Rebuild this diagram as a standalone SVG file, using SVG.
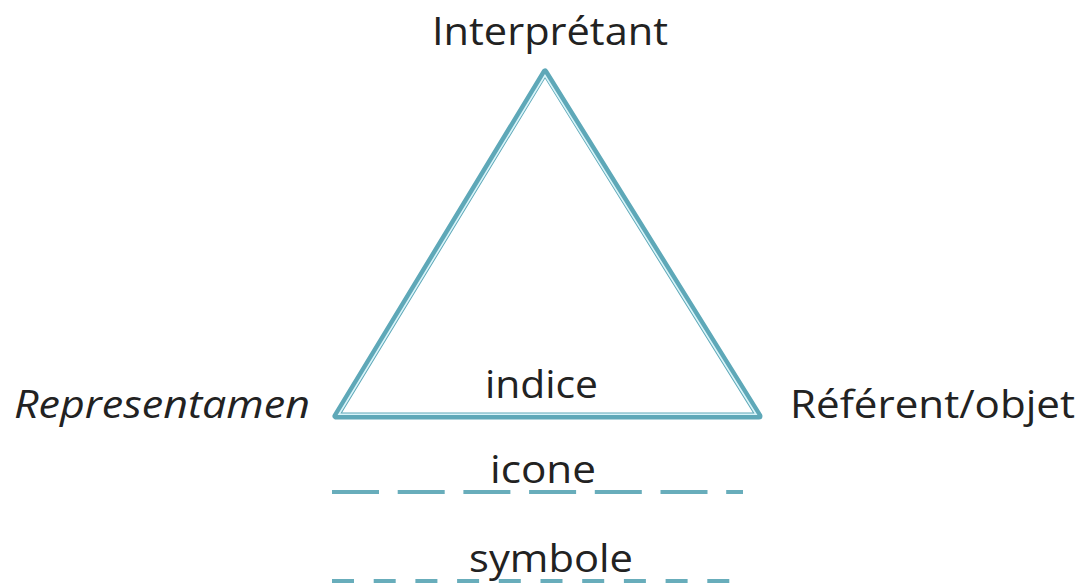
<svg xmlns="http://www.w3.org/2000/svg" width="1085" height="586" viewBox="0 0 1085 586">
<style>
  .lbl { font-family: "Open Sans", "Noto Sans", sans-serif; font-size: 38px; fill: #222222; }
  .it { font-style: italic; }
  .tri-out { fill: none; stroke: #5ea8b8; stroke-width: 7; stroke-linejoin: round; }
  .tri-in { fill: none; stroke: #d9f4f9; stroke-width: 1.6; stroke-linejoin: miter; }
  .dash { stroke: #68adbb; stroke-width: 4; fill: none; }
</style>
<rect width="1085" height="586" fill="#ffffff"/>
<g id="connectors">
  <g id="triangle">
    <polygon class="tri-out" points="545,72 336,416 759,416"/>
    <polygon class="tri-in" points="545,75.5 339,414.3 756,414.3"/>
  </g>
  <line id="icone-line" class="dash" x1="332" y1="492" x2="743" y2="492" stroke-dasharray="47 18.7"/>
  <line id="symbole-line" class="dash" x1="332" y1="581" x2="731" y2="581" stroke-dasharray="22 19.7"/>
</g>
<g id="interpretant"><text class="lbl" x="432" y="45" textLength="236" lengthAdjust="spacingAndGlyphs">Interprétant</text></g>
<g id="representamen"><text class="lbl it" x="14" y="418" textLength="296" lengthAdjust="spacingAndGlyphs">Representamen</text></g>
<g id="referent"><text class="lbl" x="790" y="418" textLength="285" lengthAdjust="spacingAndGlyphs">Référent/objet</text></g>
<g id="indice"><text class="lbl" x="485" y="398" textLength="113" lengthAdjust="spacingAndGlyphs">indice</text></g>
<g id="icone"><text class="lbl" x="490" y="483" textLength="106" lengthAdjust="spacingAndGlyphs">icone</text></g>
<g id="symbole"><text class="lbl" x="469" y="572" textLength="164" lengthAdjust="spacingAndGlyphs">symbole</text></g>
</svg>
